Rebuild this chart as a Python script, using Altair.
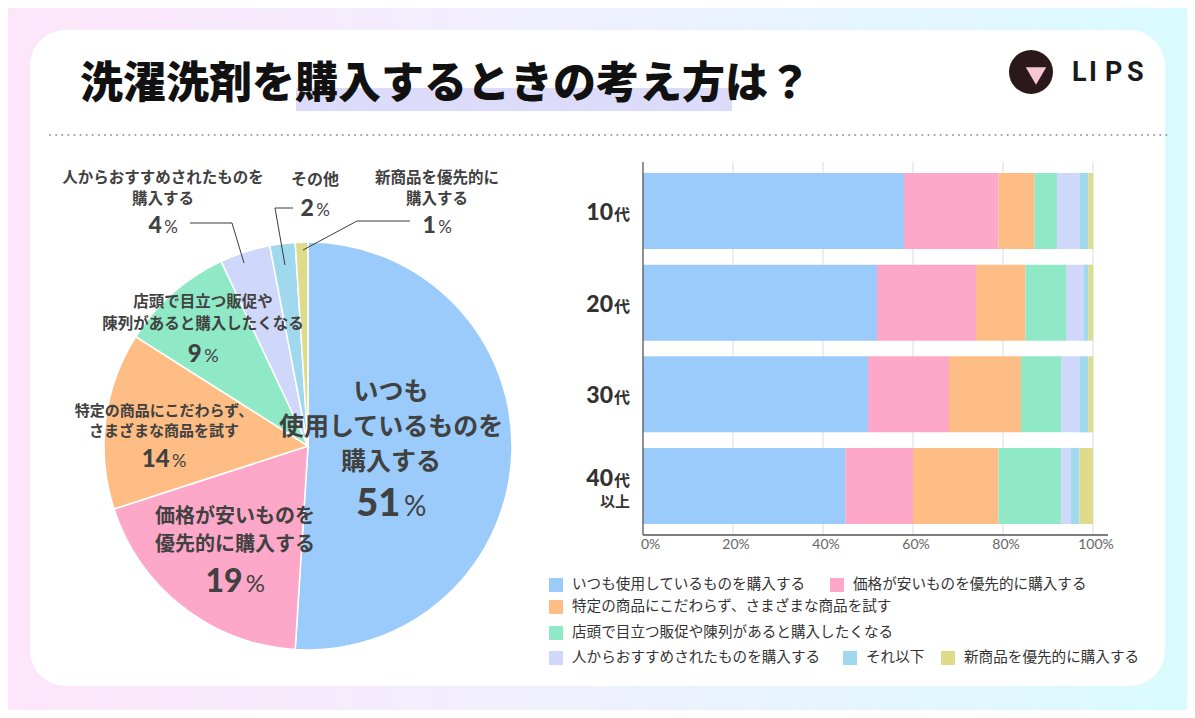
import altair as alt
import pandas as pd

# ------------------------------------------------------------------ data
CATEGORIES = [
    "いつも使用しているものを購入する",
    "価格が安いものを優先的に購入する",
    "特定の商品にこだわらず、さまざまな商品を試す",
    "店頭で目立つ販促や陳列があると購入したくなる",
    "人からおすすめされたものを購入する",
    "それ以下",
    "新商品を優先的に購入する",
]
PIE_VALUES = [51, 19, 14, 9, 4, 2, 1]
PIE_LABELS = [
    ["いつも", "使用しているものを", "購入する"],
    ["価格が安いものを", "優先的に購入する"],
    ["特定の商品にこだわらず、", "さまざまな商品を試す"],
    ["店頭で目立つ販促や", "陳列があると購入したくなる"],
    ["人からおすすめされたものを", "購入する"],
    ["その他"],
    ["新商品を優先的に", "購入する"],
]
AGE_GROUPS = ["10代", "20代", "30代", "40代以上"]
AGE_NUM = ["10", "20", "30", "40"]
BAR_10 = [58, 21, 8, 5, 5, 2, 1]
BAR_20 = [52, 22, 11, 9, 4, 1, 1]
BAR_30 = [50, 18, 16, 9, 4, 2, 1]
BAR_40 = [45, 15, 19, 14, 2, 2, 3]
X_TICKS = [0, 20, 40, 60, 80, 100]
TITLE = "洗濯洗剤を購入するときの考え方は？"
COLORS = ["#9ACBFB", "#FEA8C9", "#FDBD85", "#8FE8C6", "#CFD7FA", "#A0D8EE", "#DEDC8A"]

# ------------------------------------------------------------------ layout (page pixels)
W, H = 1179, 702
OFF = 8
JP = "Noto Sans CJK JP"
NUM = "Lato"
TXT = "#414141"


def px(v):
    return v - OFF


PIE_CX, PIE_CY, PIE_R = 308, 446, 204
PIE_LABEL_LAYOUT = [
    dict(cx=391, ys=[392, 427, 462], fs=25, py=502, ns=38, ps=28),
    dict(cx=235, ys=[517, 545], fs=20, py=580, ns=32, ps=24),
    dict(cx=164, ys=[411, 431], fs=15, py=458, ns=24, ps=18),
    dict(cx=203, ys=[302, 324], fs=15.5, py=353, ns=24, ps=18),
    dict(cx=163, ys=[178, 199], fs=15.5, py=225, ns=23, ps=17),
    dict(cx=315, ys=[180], fs=16, py=208, ns=23, ps=17),
    dict(cx=437, ys=[178, 199], fs=15.5, py=225, ns=23, ps=17),
]
LEADERS = [
    [(190, 223), (232, 223), (244, 263)],
    [(293, 208), (275, 208), (285, 265)],
    [(410, 221), (357, 221), (303, 250)],
]
LEGEND_POS = [(549, 585), (830, 585), (549, 607), (549, 633), (549, 658), (843, 658), (941, 658)]

DUMMY = pd.DataFrame({"d": [0]})


def base():
    return alt.Chart(DUMMY)


def text_at(x, y, s, size, weight="normal", color=TXT, align="center",
            baseline="middle", font=JP):
    return base().mark_text(fontSize=size, fontWeight=weight, color=color, align=align,
                            baseline=baseline, font=font).encode(
        x=alt.value(px(x)), y=alt.value(px(y)), text=alt.value(s))


def seg(x1, y1, x2, y2, color="#333333", width=1.0, dash=None, cap="butt"):
    kw = dict(color=color, strokeWidth=width, strokeCap=cap)
    if dash:
        kw["strokeDash"] = dash
    return base().mark_rule(**kw).encode(
        x=alt.value(px(x1)), y=alt.value(px(y1)),
        x2=alt.value(px(x2)), y2=alt.value(px(y2)))


def pct_label(cx, cy, value, ns, ps):
    num = str(value)
    num_w = len(num) * 0.58 * ns
    pct_w = 0.78 * ps
    gap = 0.1 * ns
    left = cx - (num_w + gap + pct_w) / 2
    yb = cy + 0.36 * ns
    return [
        text_at(left + num_w, yb, num, ns, weight=900, align="right",
                baseline="alphabetic", font=NUM),
        text_at(left + num_w + gap, yb, "%", ps, weight="normal", align="left",
                baseline="alphabetic", font=NUM),
    ]


layers = []

# background + card
bg = base().mark_rect(fill=alt.LinearGradient(
    gradient="linear",
    stops=[alt.GradientStop(color="#FDE5FA", offset=0),
           alt.GradientStop(color="#EEF0FD", offset=0.5),
           alt.GradientStop(color="#D9FBFD", offset=1)],
    x1=0, x2=1, y1=0, y2=0)).encode(
    x=alt.value(0), x2=alt.value(W), y=alt.value(0), y2=alt.value(H))
card = base().mark_rect(fill="white", cornerRadius=36).encode(
    x=alt.value(px(30)), x2=alt.value(px(1165)), y=alt.value(px(30)), y2=alt.value(px(686)))
layers += [bg, card]

# title with highlight
hl = base().mark_rect(fill="#DCDCFA").encode(
    x=alt.value(px(296)), x2=alt.value(px(732)), y=alt.value(px(88)), y2=alt.value(px(111)))
layers += [hl, text_at(80, 85, TITLE, 43, weight=900, color="#111111", align="left")]

# logo
logo_circle = base().mark_point(shape="circle", filled=True, size=1936, color="#2A181D", opacity=1).encode(
    x=alt.value(px(1031)), y=alt.value(px(72)))
logo_face = base().mark_point(shape="triangle-down", filled=True, size=420, color="#F7C6D6", opacity=1).encode(
    x=alt.value(px(1036)), y=alt.value(px(76)))
layers += [logo_circle, logo_face]
for ch, lx in zip("LIPS", [1072, 1089, 1105, 1127]):
    layers.append(text_at(lx, 73, ch, 27, weight="bold", color="#1A1A1A", align="left", font="Roboto"))

# dotted separator
layers.append(seg(50, 135, 1168, 135, color="#9E9E9E", width=2, dash=[0.1, 6], cap="round"))

# ------------------------------------------------------------------ pie
COLOR_SCALE = alt.Scale(domain=CATEGORIES, range=COLORS)
pie_df = pd.DataFrame({"cat": CATEGORIES, "v": PIE_VALUES, "idx": list(range(len(CATEGORIES)))})
pie = alt.Chart(pie_df).mark_arc(radius=PIE_R, stroke="white", strokeWidth=1.5).encode(
    theta=alt.Theta("v:Q", stack=True),
    color=alt.Color("cat:N", scale=COLOR_SCALE, legend=None),
    order=alt.Order("idx:Q", sort="ascending"),
    x=alt.value(px(PIE_CX)), y=alt.value(px(PIE_CY)),
)
layers.append(pie)

for pts in LEADERS:
    for (x1, y1), (x2, y2) in zip(pts[:-1], pts[1:]):
        layers.append(seg(x1, y1, x2, y2, color="#3A3A3A", width=1))

for lines, val, lay in zip(PIE_LABELS, PIE_VALUES, PIE_LABEL_LAYOUT):
    for s, y in zip(lines, lay["ys"]):
        layers.append(text_at(lay["cx"], y, s, lay["fs"], weight="bold"))
    layers += pct_label(lay["cx"], lay["py"], val, lay["ns"], lay["ps"])

# ------------------------------------------------------------------ stacked bars
rows = []
for age, vals in zip(AGE_GROUPS, [BAR_10, BAR_20, BAR_30, BAR_40]):
    for i, (c, v) in enumerate(zip(CATEGORIES, vals)):
        rows.append({"age": age, "cat": c, "idx": i, "pct": v})
bar_df = pd.DataFrame(rows)

X_SCALE = alt.Scale(domain=[0, 100], range=[px(643), px(1093)], nice=False)
Y_SCALE = alt.Scale(domain=AGE_GROUPS, range=[px(173), px(524)], paddingInner=0.17, paddingOuter=0)

grid_df = pd.DataFrame({"t": X_TICKS[1:]})
grid = alt.Chart(grid_df).mark_rule(color="#DCDCDC", strokeWidth=1).encode(
    x=alt.X("t:Q", scale=X_SCALE, axis=None),
    y=alt.value(px(162)), y2=alt.value(px(535)))
layers.append(grid)

bars = alt.Chart(bar_df).mark_bar().encode(
    x=alt.X("pct:Q", stack="zero", scale=X_SCALE, axis=None),
    y=alt.Y("age:N", scale=Y_SCALE, axis=None),
    color=alt.Color("cat:N", scale=COLOR_SCALE, legend=None),
    order=alt.Order("idx:Q", sort="ascending"),
)
layers.append(bars)

layers.append(seg(643, 162, 643, 535, color="#555555", width=1.3))
layers.append(seg(643, 535, 1108, 535, color="#555555", width=1.3))

tick_df = pd.DataFrame({"t": X_TICKS, "label": [f"{t}%" for t in X_TICKS]})
xlab = alt.Chart(tick_df).transform_filter("datum.t > 0").mark_text(
    fontSize=14, font=NUM, color="#666666", align="center", baseline="middle", dx=3).encode(
    x=alt.X("t:Q", scale=X_SCALE, axis=None), y=alt.value(px(545)), text="label:N")
xlab0 = alt.Chart(tick_df).transform_filter("datum.t == 0").mark_text(
    fontSize=14, font=NUM, color="#666666", align="left", baseline="middle", dx=-2).encode(
    x=alt.X("t:Q", scale=X_SCALE, axis=None), y=alt.value(px(545)), text="label:N")
layers += [xlab, xlab0]

ylab_df = pd.DataFrame({"age": AGE_GROUPS, "num": AGE_NUM, "row": list(range(len(AGE_GROUPS)))})
for cond, dy in [("datum.row < 3", 9), ("datum.row == 3", 0)]:
    layers.append(alt.Chart(ylab_df).transform_filter(cond).mark_text(
        fontSize=23, font=NUM, fontWeight=900, color="#333333", align="right",
        baseline="alphabetic", dy=dy).encode(
        x=alt.value(px(613)), y=alt.Y("age:N", scale=Y_SCALE, axis=None), text="num:N"))
    layers.append(alt.Chart(ylab_df).transform_filter(cond).mark_text(
        fontSize=16, font=JP, fontWeight="bold", color="#333333", align="left",
        baseline="alphabetic", dy=dy).encode(
        x=alt.value(px(614)), y=alt.Y("age:N", scale=Y_SCALE, axis=None), text=alt.value("代")))
layers.append(alt.Chart(ylab_df).transform_filter("datum.row == 3").mark_text(
    fontSize=15, font=JP, fontWeight="bold", color="#333333", align="right",
    baseline="middle", dy=16).encode(
    x=alt.value(px(630)), y=alt.Y("age:N", scale=Y_SCALE, axis=None), text=alt.value("以上")))

# ------------------------------------------------------------------ legend
for cat, col, (lx, ly) in zip(CATEGORIES, COLORS, LEGEND_POS):
    layers.append(base().mark_square(size=196, color=col, opacity=1).encode(
        x=alt.value(px(lx + 7)), y=alt.value(px(ly))))
    layers.append(text_at(lx + 23, ly, cat, 14.6, weight="normal", color="#333333", align="left"))

chart = alt.layer(*layers).properties(
    width=W, height=H,
    autosize=alt.AutoSizeParams(type="none"),
    padding=0,
).configure_view(stroke=None)

chart.save("out.html", embed_options={"renderer": "svg", "actions": False})
